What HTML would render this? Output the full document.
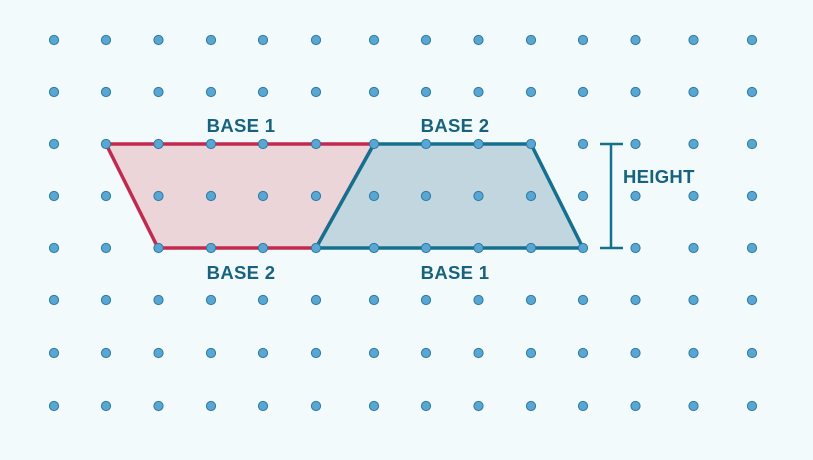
<!DOCTYPE html>
<html><head><style>
html,body{margin:0;padding:0;background:#f3fafb;}
svg{display:block;}
text{font-family:"Liberation Sans",sans-serif;font-weight:bold;font-size:18.5px;letter-spacing:0.3px;fill:#17627f;}
</style></head><body>
<svg width="813" height="460" viewBox="0 0 813 460">
<rect width="813" height="460" fill="#f3fafb"/>
<polygon points="106,144 374,144 316,248 158,248" fill="#ecd5d9" stroke="#c3284f" stroke-width="3.5" stroke-linejoin="round"/>
<polygon points="374,144 531,144 583,248 316,248" fill="#c1d6df" stroke="#15708f" stroke-width="3.5" stroke-linejoin="round"/>
<g stroke="#15708f" stroke-width="2.5">
<line x1="611" y1="144" x2="611" y2="248"/>
<line x1="600" y1="144" x2="623" y2="144"/>
<line x1="600" y1="248" x2="623" y2="248"/>
</g>
<text x="241" y="132" text-anchor="middle">BASE 1</text>
<text x="455" y="132" text-anchor="middle">BASE 2</text>
<text x="241" y="279" text-anchor="middle">BASE 2</text>
<text x="455" y="279" text-anchor="middle">BASE 1</text>
<text x="623" y="183">HEIGHT</text>
<g id="dots" fill="#5aa6d3" stroke="#2c7aa3" stroke-width="1">
</g>
</svg>
<script>
var xs=[54,106,158.5,211,263,316,374,426,478.5,531,583,635.5,693.5,752];
var ys=[40,92,144,196,248,300,353,406];
var g=document.getElementById('dots');
ys.forEach(function(y){xs.forEach(function(x){
var c=document.createElementNS('http://www.w3.org/2000/svg','circle');
c.setAttribute('cx',x);c.setAttribute('cy',y);c.setAttribute('r',4.6);g.appendChild(c);});});
</script>
</body></html>
